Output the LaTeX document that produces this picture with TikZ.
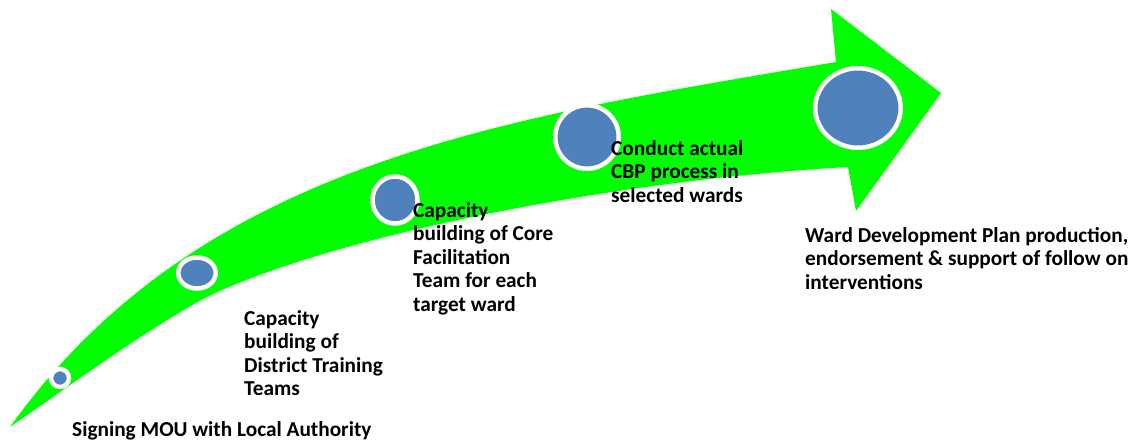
\documentclass[tikz,border=0pt]{standalone}
\usepackage{fontspec}
\setmainfont{Carlito}
\usepackage{tikz}
\usetikzlibrary{shapes.geometric}
\definecolor{arrowgreen}{HTML}{00FF00}
\definecolor{dotblue}{HTML}{4F81BD}

\begin{document}
\begin{tikzpicture}[x=1pt, y=-1pt,
	dot/.style={ellipse, fill=dotblue, draw=white, line width=4.5pt, inner sep=0pt},
	stage/.style={anchor=base west, align=left, inner sep=0pt, font=\fontsize{21.3}{23.5}\selectfont\bfseries}]
	\useasboundingbox (0,0) rectangle (1139,441);
	% the curved arrow
	\fill[arrowgreen] (10,427) .. controls (200,161) and (506,118) .. (836,62) -- (831,9) -- (941,93) -- (856,211) -- (848,167)
		.. controls (600,181) and (320,240) .. (203,299) .. controls (140,334) and (75,382) .. (10,427) -- cycle;
	% milestones on the arrow
	\node[dot, minimum width=18, minimum height=18] (mou) at (60,378) {};
	\node[dot, minimum width=37.5, minimum height=31] (dtt) at (197,273) {};
	\node[dot, minimum width=45, minimum height=47] (cft) at (395,200) {};
	\node[dot, minimum width=63.5, minimum height=63.5] (cbp) at (587,137) {};
	\node[dot, minimum width=85.5, minimum height=79.5] (wdp) at (858,108) {};
	% texts (anchored at the baseline of the last line)
	\node[stage] (mou text) at (72,436) {Signing MOU with Local Authority};
	\node[stage] (dtt text) at (244,395.5) {Capacity\\building of\\District Training\\Teams};
	\node[stage] (cft text) at (413,311) {Capacity\\building of Core\\Facilitation\\Team for each\\target ward};
	\node[stage] (cbp text) at (611,202) {Conduct actual\\CBP process in\\selected wards};
	\node[stage] (wdp text) at (805,289) {Ward Development Plan production,\\endorsement \& support of follow on\\interventions};
\end{tikzpicture}
\end{document}
